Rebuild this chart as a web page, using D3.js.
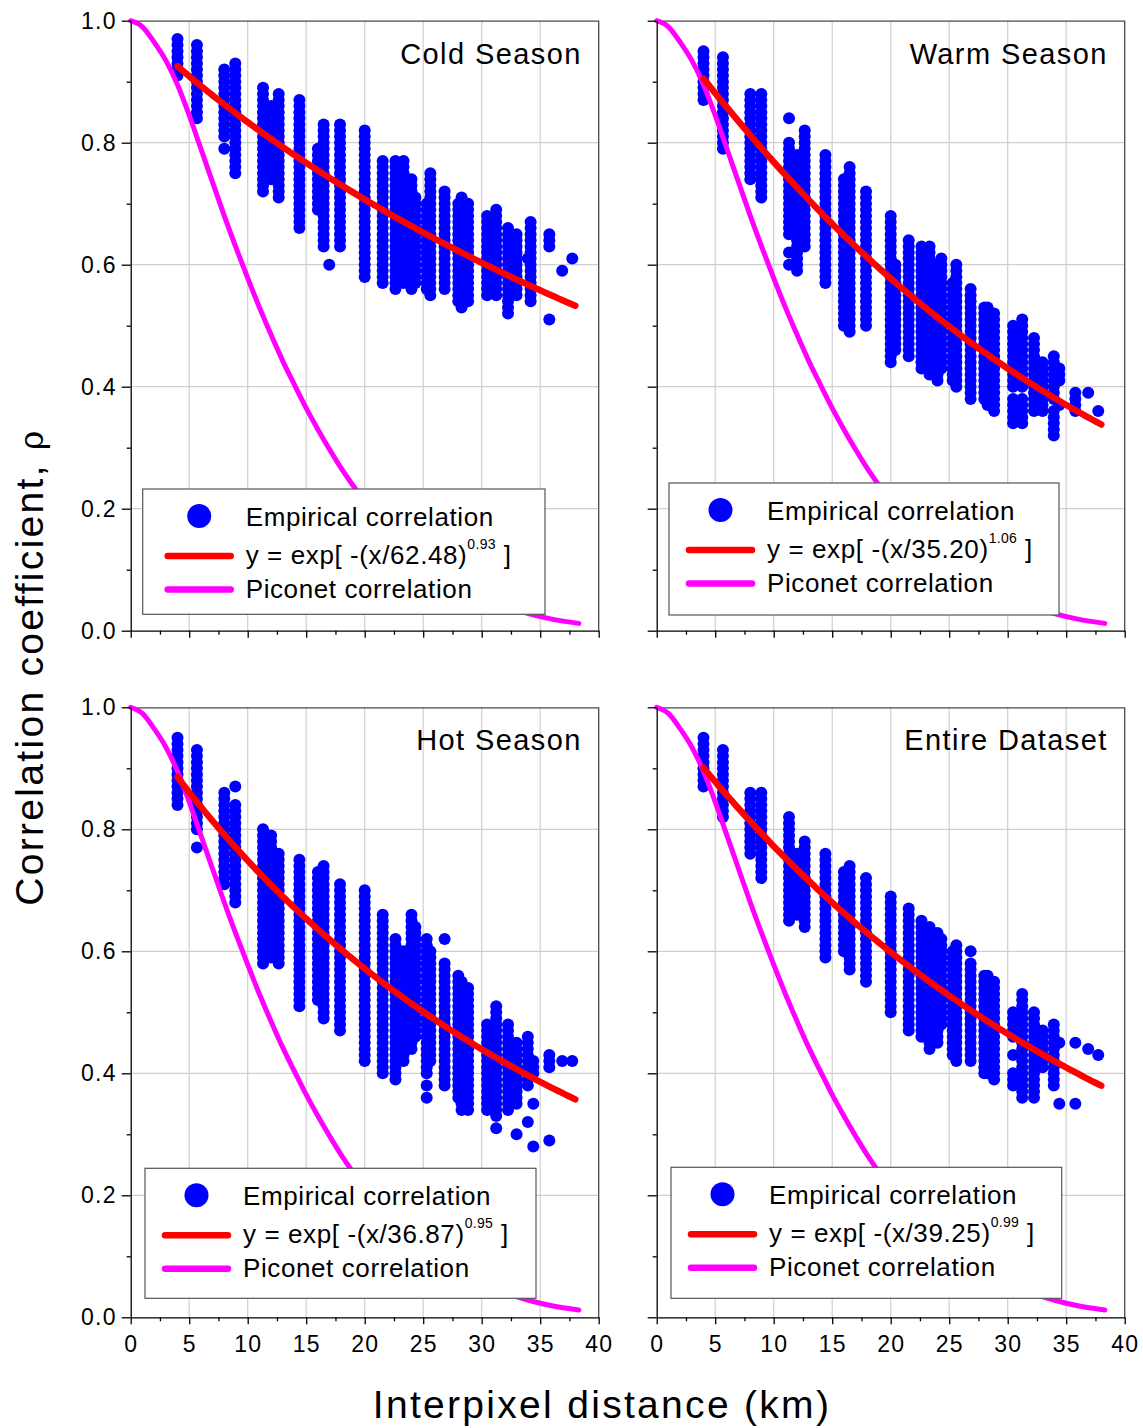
<!DOCTYPE html>
<html>
<head>
<meta charset="utf-8">
<script src="https://cdn.jsdelivr.net/npm/d3@7"></script>
<style>
  body { margin: 0; background: #fff; }
  svg { display: block; }
  text { font-family: "Liberation Sans", Arial, Helvetica, sans-serif; fill: #000; }
</style>
</head>
<body>
<svg id="chart" width="1143" height="1428"></svg>
<script>
// ---- Panel labels and fitted model parameters ----
const panelTitles = ["Cold Season", "Warm Season", "Hot Season", "Entire Dataset"];
const fitScale = [62.48, 35.20, 36.87, 39.25];
const fitShape = [0.93, 1.06, 0.95, 0.99];
const fitScaleText = ["62.48", "35.20", "36.87", "39.25"];
const fitShapeText = ["0.93", "1.06", "0.95", "0.99"];
const legendLabels = ["Empirical correlation", "Piconet correlation"];

// ---- Axis ticks ----
const xMajorTicks = [0, 5, 10, 15, 20, 25, 30, 35, 40];
const xMinorTicks = [2.5, 7.5, 12.5, 17.5, 22.5, 27.5, 32.5, 37.5];
const yMajorTicks = [0, 0.2, 0.4, 0.6, 0.8, 1.0];
const yMinorTicks = [0.1, 0.3, 0.5, 0.7, 0.9];

// ---- Piconet correlation curve (distance km, rho) ----
const piconetDist = [0, 1, 2, 3, 4, 5, 6, 7, 8, 9, 10, 11, 12, 13, 14, 15, 16, 17, 18, 19, 20, 22, 24, 26, 28, 30, 32, 34, 36, 38.3];
const piconetRho  = [1.000, 0.990, 0.965, 0.935, 0.895, 0.845, 0.790, 0.735, 0.680, 0.628, 0.578, 0.530, 0.485, 0.442, 0.403,
                     0.365, 0.330, 0.297, 0.266, 0.238, 0.212, 0.168, 0.131, 0.100, 0.075, 0.055, 0.040, 0.028, 0.019, 0.012];

// ---- Empirical correlations: pixel-pair distance (km) and the rho values (in hundredths) seen at that distance ----
const coldDist = [4, 5.66, 8, 8.94, 11.31, 12, 12.65, 14.42, 16, 16.49, 16.97, 17.89, 20, 21.54, 22.63, 23.32, 24, 24.33,
                  25.3, 25.61, 26.83, 28, 28.28, 28.84, 30.46, 31.24, 32.25, 32.98, 33.94, 34.18, 35.78, 36.88, 37.74];
const coldRho = [
  [97,96,95,94,93,92,91],
  [96,95,94,93,92,91,90,89,88,87,86,85,84],
  [92,91,90,89,88,87,86,85,84,83,82,81,79],
  [93,92,91,90,89,88,87,86,85,84,83,82,81,80,79,78,77,76,75],
  [89,88,87,86,85,84,83,82,81,80,79,78,77,76,75,74,73,72],
  [86,85,84,83,82,81,80,79,78,77,76,75,74],
  [88,87,86,85,84,83,82,81,80,79,78,77,76,75,74,73,72,71],
  [87,86,85,84,83,82,81,80,79,78,77,76,75,74,73,72,71,70,69,68,67,66],
  [79,78,77,76,75,74,73,72,71,70,69],
  [83,82,81,80,79,78,77,76,75,74,73,72,71,70,69,68,67,66,65,64,63],
  [60],
  [83,82,81,80,79,78,77,76,75,74,73,72,71,70,69,68,67,66,65,64,63],
  [82,81,80,79,78,77,76,75,74,73,72,71,70,69,68,67,66,65,64,63,62,61,60,59,58],
  [77,76,75,74,73,72,71,70,69,68,67,66,65,64,63,62,61,60,59,58,57],
  [77,76,75,74,73,72,71,70,69,68,67,66,65,64,63,62,61,60,59,58,57,56],
  [77,76,75,74,73,72,71,70,69,68,67,66,65,64,63,62,61,60,59,58,57],
  [74,73,72,71,70,69,68,67,66,65,64,63,62,61,60,59,58,57,56],
  [71,70,69,68,67,66,65,64,63,62,61,60,59,58,57],
  [70,69,68,67,66,65,64,63,62,61,60,59,58,57,56],
  [75,74,73,72,71,70,69,68,67,66,65,64,63,62,61,60,59,58,57,56,55],
  [72,71,70,69,68,67,66,65,64,63,62,61,60,59,58,57,56],
  [70,69,68,67,66,65,64,63,62,61,60,59,58,57,56,55,54],
  [71,70,69,68,67,66,65,64,63,62,61,60,59,58,57,56,55,54,53],
  [70,69,68,67,66,65,64,63,62,61,60,59,58,57,56,55,54],
  [68,67,66,65,64,63,62,61,60,59,58,57,56,55],
  [69,68,67,66,65,64,63,62,61,60,59,58,57,56,55],
  [66,65,64,63,62,61,60,59,58,57,56,55,54,53,52],
  [65,64,63,62,61,60,59,58,57,56,55],
  [61],
  [67,66,65,64,63,62,61,60,59,58,57,56,55,54],
  [65,64,63,51],
  [59],
  [61]
];

const warmDist = [4, 5.66, 8, 8.94, 11.31, 12, 12.65, 14.42, 16, 16.49, 17.89, 20, 20.4, 21.54, 22.63, 23.32, 24, 24.33,
                  25.3, 25.61, 26.83, 28, 28.28, 28.84, 30.46, 31.24, 32.25, 32.98, 33.94, 34.41, 35.78, 36.88, 37.74];
const warmRho = [
  [95,94,93,92,91,90,89,88,87],
  [94,93,92,91,90,89,88,87,86,85,84,83,82,81,80,79],
  [88,87,86,85,84,83,82,81,80,79,78,77,76,75,74],
  [88,87,86,85,84,83,82,81,80,79,78,77,76,75,74,73,72,71],
  [84,80,79,78,77,76,75,74,73,72,71,70,69,68,67,66,65,62,60],
  [78,77,76,75,74,73,72,71,70,69,68,67,66,65,64,63,62,61,60,59],
  [82,81,80,79,78,77,76,75,74,73,72,71,70,69,68,67,66,65,64,63],
  [78,77,76,75,74,73,72,71,70,69,68,67,66,65,64,63,62,61,60,59,58,57],
  [74,73,72,71,70,69,68,67,66,65,64,63,62,61,60,59,58,57,56,55,54,53,52,51,50],
  [76,75,74,73,72,71,70,69,68,67,66,65,64,63,62,61,60,59,58,57,56,55,54,53,52,51,50,49],
  [72,71,70,69,68,67,66,65,64,63,62,61,60,59,58,57,56,55,54,53,52,51,50],
  [68,67,66,65,64,63,62,61,60,59,58,57,56,55,54,53,52,51,50,49,48,47,46,45,44],
  [60,59,58,57,56,55,54,53,52,51,50,49,48,47,46],
  [64,63,62,61,60,59,58,57,56,55,54,53,52,51,50,49,48,47,46,45],
  [63,62,61,60,59,58,57,56,55,54,53,52,51,50,49,48,47,46,45,44,43],
  [63,62,61,60,59,58,57,56,55,54,53,52,51,50,49,48,47,46,45,44,43,42],
  [60,59,58,57,56,55,54,53,52,51,50,49,48,47,46,45,44,43,42,41],
  [61,60,59,58,57,56,55,54,53,52,51,50,49,48,47,46,45,44,43],
  [57,56,55,54,53,52,51,50,49,48,47,46,45,44,43,42,41],
  [60,59,58,57,56,55,54,53,52,51,50,49,48,47,46,45,44,43,42,41,40],
  [56,55,54,53,52,51,50,49,48,47,46,45,44,43,42,41,40,39,38],
  [53,52,51,50,49,48,47,46,45,44,43,42,41,40,39,38],
  [53,52,51,50,49,48,47,46,45,44,43,42,41,40,39,38,37],
  [52,51,50,49,48,47,46,45,44,43,42,41,40,39,38,37,36],
  [50,49,48,47,46,45,44,43,42,41,40,38,37,36,35,34],
  [51,50,49,48,47,46,45,44,43,42,41,40,38,37,36,35,34],
  [48,47,46,45,44,43,42,41,40,39,38,37,36],
  [44,43,42,41,40,39,38,37,36],
  [45,44,43,42,41,40,39,38,36,35,34,33,32],
  [43,42,41,37],
  [39,38,37,36],
  [39],
  [36]
];

const hotDist = [4, 5.66, 8, 8.94, 11.31, 12, 12.65, 14.42, 16, 16.49, 17.89, 20, 21.54, 22.63, 23.32, 24, 24.33,
                 25.3, 25.61, 26.83, 28, 28.28, 28.84, 30.46, 31.24, 32.25, 32.98, 33.94, 34.41, 35.78, 36.88, 37.74];
const hotRho = [
  [95,94,93,92,91,90,89,88,87,86,85,84],
  [93,92,91,90,89,88,87,86,85,84,83,82,81,80,77],
  [86,85,84,83,82,81,80,79,78,77,76,75,74,73,72,71],
  [87,84,83,82,81,80,79,78,77,76,75,74,73,72,71,70,69,68],
  [80,79,78,77,76,75,74,73,72,71,70,69,68,67,66,65,64,63,62,61,60,59,58],
  [79,78,77,76,75,74,73,72,71,70,69,68,67,66,65,64,63,62,61,60,59],
  [76,75,74,73,72,71,70,69,68,67,66,65,64,63,62,61,60,59,58],
  [75,74,73,72,71,70,69,68,67,66,65,64,63,62,61,60,59,58,57,56,55,54,53,52,51],
  [73,72,71,70,69,68,67,66,65,64,63,62,61,60,59,58,57,56,55,54,53,52],
  [74,73,72,71,70,69,68,67,66,65,64,63,62,61,60,59,58,57,56,55,54,53,52,51,50,49],
  [71,70,69,68,67,66,65,64,63,62,61,60,59,58,57,56,55,54,53,52,51,50,49,48,47],
  [70,69,68,67,66,65,64,63,62,61,60,59,58,57,56,55,54,53,52,51,50,49,48,47,46,45,44,43,42],
  [66,65,64,63,62,61,60,59,58,57,56,55,54,53,52,51,50,49,48,47,46,45,44,43,42,41,40],
  [62,61,60,59,58,57,56,55,54,53,52,51,50,49,48,47,46,45,44,43,42,41,40,39],
  [60,59,58,57,56,55,54,53,52,51,50,49,48,47,46,45,44,43,42],
  [66,65,64,63,62,61,60,59,58,57,56,55,54,53,52,51,50,49,48,47,46,45,44],
  [64,63,62,61,60,59,58,57,56,55,54,53,52,51,50,49,48,47,46],
  [62,61,60,59,58,57,56,55,54,53,52,51,50,49,48,47,46,45,44,43,42,41,40,38,36],
  [60,59,58,57,56,55,54,53,52,51,50,49,48,47,46,45,44,43,42],
  [62,58,57,56,55,54,53,52,51,50,49,48,47,46,45,44,43,42,41,40,39,38],
  [56,55,54,53,52,51,50,49,48,47,46,45,44,43,42,41,40,39,38,37,36],
  [55,54,53,52,51,50,49,48,47,46,45,44,43,42,41,40,39,38,37,36,35,34],
  [54,53,52,51,50,49,48,47,46,45,44,43,42,41,40,39,38,37,36,35,34],
  [48,47,46,45,44,43,42,41,40,39,38,37,36,35,34],
  [51,50,49,48,47,46,45,44,43,42,41,40,39,38,37,36,35,34,33,31],
  [48,47,46,45,44,43,42,41,40,39,38,37,36,35,34],
  [45,44,43,42,41,40,39,38,37,36,35,30],
  [46,45,44,43,42,41,40,39,38,32],
  [42,41,40,35,28],
  [43,42,41,29],
  [42],
  [42]
];

const entireDist = [4, 5.66, 8, 8.94, 11.31, 12, 12.65, 14.42, 16, 16.49, 17.89, 20, 21.54, 22.63, 23.32, 24, 24.33,
                    25.3, 25.61, 26.83, 28, 28.28, 28.84, 30.46, 31.24, 32.25, 32.98, 33.94, 34.41, 35.78, 36.88, 37.74];
const entireRho = [
  [95,94,93,92,91,90,89,88,87],
  [93,92,91,90,89,88,87,86,85,84,83,82],
  [86,85,84,83,82,81,80,79,78,77,76],
  [86,85,84,83,82,81,80,79,78,77,76,75,74,73,72],
  [82,81,80,79,78,77,76,75,74,73,72,71,70,69,68,67,66,65],
  [76,75,74,73,72,71,70,69,68,67,66],
  [78,77,76,75,74,73,72,71,70,69,68,67,66,65,64],
  [76,75,74,73,72,71,70,69,68,67,66,65,64,63,62,61,60,59],
  [73,72,71,70,69,68,67,66,65,64,63,62,61,60],
  [74,73,72,71,70,69,68,67,66,65,64,63,62,61,60,59,58,57],
  [72,71,70,69,68,67,66,65,64,63,62,61,60,59,58,57,56,55],
  [69,68,67,66,65,64,63,62,61,60,59,58,57,56,55,54,53,52,51,50],
  [67,66,65,64,63,62,61,60,59,58,57,56,55,54,53,52,51,50,49,48,47],
  [65,64,63,62,61,60,59,58,57,56,55,54,53,52,51,50,49,48,47,46],
  [64,63,62,61,60,59,58,57,56,55,54,53,52,51,50,49,48,47,46,45,44],
  [63,62,61,60,59,58,57,56,55,54,53,52,51,50,49,48,47,46,45],
  [62,61,60,59,58,57,56,55,54,53,52,51,50,49,48],
  [60,59,58,57,56,55,54,53,52,51,50,49,48,47,46,45,44,43],
  [61,60,59,58,57,56,55,54,53,52,51,50,49,48,47,46,45,44,43,42],
  [60,58,57,56,55,54,53,52,51,50,49,48,47,46,45,44,43,42],
  [56,55,54,53,52,51,50,49,48,47,46,45,44,43,42,41,40],
  [56,55,54,53,52,51,50,49,48,47,46,45,44,43,42,41,40],
  [55,54,53,52,51,50,49,48,47,46,45,44,43,42,41,40,39],
  [50,49,48,47,46,43,40,39,38],
  [53,52,51,50,49,48,47,46,45,44,43,42,41,40,39,38,37,36],
  [50,49,48,47,46,45,44,43,42,41,40,39,38,37,36],
  [47,46,45,44,43,42,41],
  [48,47,46,45,44,43,42,41,40,39,38],
  [45,35],
  [45,35],
  [44],
  [43]
];

const panelDist = [coldDist, warmDist, hotDist, entireDist];
const panelRho = [coldRho, warmRho, hotRho, entireRho];

// ---- Layout ----
const W = 468, H = 610;
const origins = [[130.7, 20.7], [656.7, 20.7], [130.7, 707.3], [656.7, 707.3]];
// legend box: [left, top, width, height, content shift] relative to the plot origin
const legendBoxes = [[12, 468.3, 402.3, 125.3, 5], [12.3, 462.3, 390, 132, 0], [14.3, 461, 391, 130, 0], [14.3, 460, 390.7, 131, 0]];

const svg = d3.select("#chart");
const x = d3.scaleLinear().domain([0, 40]).range([0, W]);
const y = d3.scaleLinear().domain([0, 1]).range([H, 0]);

const fitLine = d3.line().x(d => x(d[0])).y(d => y(d[1]));
const piconetLine = d3.line().x(d => x(d[0])).y(d => y(d[1])).curve(d3.curveMonotoneX);

panelTitles.forEach((title, i) => {
  const [ox, oy] = origins[i];
  const isLeft = i % 2 === 0, isBottom = i >= 2;
  const g = svg.append("g").attr("transform", `translate(${ox},${oy})`);

  // grid
  g.append("g").selectAll("line").data(xMajorTicks.slice(1, -1)).join("line")
    .attr("x1", d => x(d)).attr("x2", d => x(d)).attr("y1", 0).attr("y2", H)
    .attr("stroke", "#d0d0d0").attr("stroke-width", 1.2);
  g.append("g").selectAll("line").data(yMajorTicks.slice(1, -1)).join("line")
    .attr("y1", d => y(d)).attr("y2", d => y(d)).attr("x1", 0).attr("x2", W)
    .attr("stroke", "#d0d0d0").attr("stroke-width", 1.2);

  // top / right frame
  g.append("path").attr("d", `M0,0.5H${W}V${H}`).attr("fill", "none")
    .attr("stroke", "#4a4a4a").attr("stroke-width", 1.3);

  // empirical points
  const pts = [];
  panelDist[i].forEach((d, k) => panelRho[i][k].forEach(r => pts.push([d, r / 100])));
  g.append("g").selectAll("circle").data(pts).join("circle")
    .attr("cx", d => x(d[0])).attr("cy", d => y(d[1])).attr("r", 6).attr("fill", "#0000ff");

  // piconet curve
  const pico = piconetDist.map((d, k) => [d, piconetRho[k]]);
  g.append("path").attr("d", piconetLine(pico)).attr("fill", "none")
    .attr("stroke", "#ff00ff").attr("stroke-width", 5).attr("stroke-linecap", "round");

  // fitted stretched-exponential model
  const fit = d3.range(4, 38.01, 0.25).map(d => [d, Math.exp(-Math.pow(d / fitScale[i], fitShape[i]))]);
  g.append("path").attr("d", fitLine(fit)).attr("fill", "none")
    .attr("stroke", "#ff0000").attr("stroke-width", 6.5).attr("stroke-linecap", "round");

  // axes
  const yAxis = d3.axisLeft(y).tickValues(yMajorTicks).tickSize(9).tickSizeOuter(0).tickPadding(5)
    .tickFormat(isLeft ? d3.format(".1f") : () => "");
  const ya = g.append("g").call(yAxis);
  const yMinor = g.append("g").call(d3.axisLeft(y).tickValues(yMinorTicks).tickSize(4).tickFormat(() => ""));
  yMinor.select(".domain").remove();
  const xAxis = d3.axisBottom(x).tickValues(xMajorTicks).tickSize(7).tickSizeOuter(0).tickPadding(11)
    .tickFormat(isBottom ? d3.format("d") : () => "");
  const xa = g.append("g").attr("transform", `translate(0,${H})`).call(xAxis);
  const xMinor = g.append("g").attr("transform", `translate(0,${H})`)
    .call(d3.axisBottom(x).tickValues(xMinorTicks).tickSize(4).tickFormat(() => ""));
  xMinor.select(".domain").remove();
  g.selectAll(".domain, .tick line").attr("stroke", "#000").attr("stroke-width", 1.3);
  [ya, xa].forEach(a => a.selectAll("text").style("font-size", "23px").style("letter-spacing", "1.2px")
    .attr("fill", "#000"));

  // title
  g.append("text").attr("x", W - 17).attr("y", 43).attr("text-anchor", "end")
    .style("font-size", "29px").style("letter-spacing", "1.4px").text(title);

  // legend
  const [lx, ly, lw, lh, shift] = legendBoxes[i];
  const lg = g.append("g").attr("transform", `translate(${lx},${ly})`);
  lg.append("rect").attr("x", 0).attr("y", 0).attr("width", lw).attr("height", lh)
    .attr("fill", "#fff").attr("stroke", "#555").attr("stroke-width", 1.2);
  const c0 = 18 + shift, tx = 98 + shift;
  lg.append("circle").attr("cx", c0 + 33.5).attr("cy", 27).attr("r", 12).attr("fill", "#0000ff");
  lg.append("line").attr("x1", c0 + 2).attr("x2", c0 + 65).attr("y1", 67).attr("y2", 67)
    .attr("stroke", "#ff0000").attr("stroke-width", 6.5).attr("stroke-linecap", "round");
  lg.append("line").attr("x1", c0 + 2).attr("x2", c0 + 65).attr("y1", 100.5).attr("y2", 100.5)
    .attr("stroke", "#ff00ff").attr("stroke-width", 6.5).attr("stroke-linecap", "round");
  const ls = t => t.style("font-size", "26px").style("letter-spacing", "0.6px");
  lg.append("text").attr("x", tx).attr("y", 36.5).call(ls).text(legendLabels[0]);
  const eq = lg.append("text").attr("x", tx).attr("y", 75).call(ls);
  eq.append("tspan").text(`y = exp[ -(x/${fitScaleText[i]})`);
  eq.append("tspan").attr("dy", -15).style("font-size", "14px").style("letter-spacing", "0.3px").text(fitShapeText[i]);
  eq.append("tspan").attr("dy", 15).text(" ]");
  lg.append("text").attr("x", tx).attr("y", 109).call(ls).text(legendLabels[1]);
});

// axis titles
svg.append("text").attr("x", 602).attr("y", 1418).attr("text-anchor", "middle")
  .style("font-size", "39px").style("letter-spacing", "2.3px").text("Interpixel distance (km)");
const yt = svg.append("text").attr("transform", "translate(43,667) rotate(-90)").attr("text-anchor", "middle")
  .style("font-size", "39px").style("letter-spacing", "2.3px");
yt.append("tspan").text("Correlation coefficient, ");
yt.append("tspan").style("font-family", "'DejaVu Serif', serif").style("font-size", "33px").text("ρ");
</script>
</body>
</html>
